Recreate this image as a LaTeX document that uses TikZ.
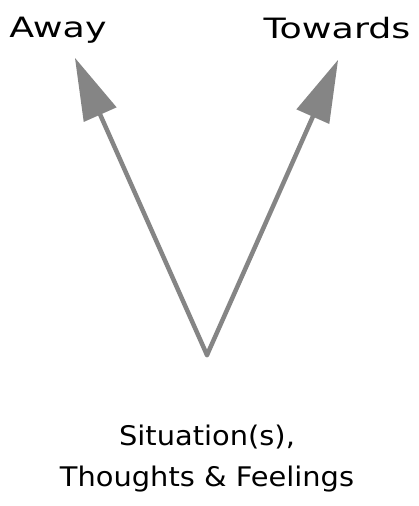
\documentclass[tikz,border=0pt]{standalone}
\usepackage{fontspec}
\setmainfont{DejaVu Sans}
\newfontfamily\widehand[FakeStretch=1.3]{DejaVu Sans}
\newfontfamily\midhand[FakeStretch=1.07]{DejaVu Sans}
\usetikzlibrary{arrows.meta}
\definecolor{arrowgray}{HTML}{858585}
\tikzset{
  toplabel/.style={font=\widehand\fontsize{28}{32}\selectfont, text=black, inner sep=0pt, align=center},
  botlabel/.style={font=\midhand\fontsize{27}{32}\selectfont, text=black, inner sep=0pt, align=center},
  pointer/.style={draw=arrowgray, line width=4.5pt, line cap=round,
    -{Triangle[length=62pt,width=36pt,fill=arrowgray,line width=0pt]}}
}
\begin{document}
\begin{tikzpicture}[x=1pt,y=-1pt]
\useasboundingbox (0,0) rectangle (419,506);
\coordinate (v) at (207,355);
\coordinate (ta) at (75,58);
\coordinate (tt) at (338,60);
\node[toplabel] (away) at (58,30) {Away};
\node[toplabel] (towards) at (337,28) {Towards};
\node[botlabel] (sit) at (207,437) {Situation(s),};
\node[botlabel] (tf) at (207,479) {Thoughts \& Feelings};
\draw[pointer] (v) -- (ta);
\draw[pointer] (v) -- (tt);
\end{tikzpicture}
\end{document}
